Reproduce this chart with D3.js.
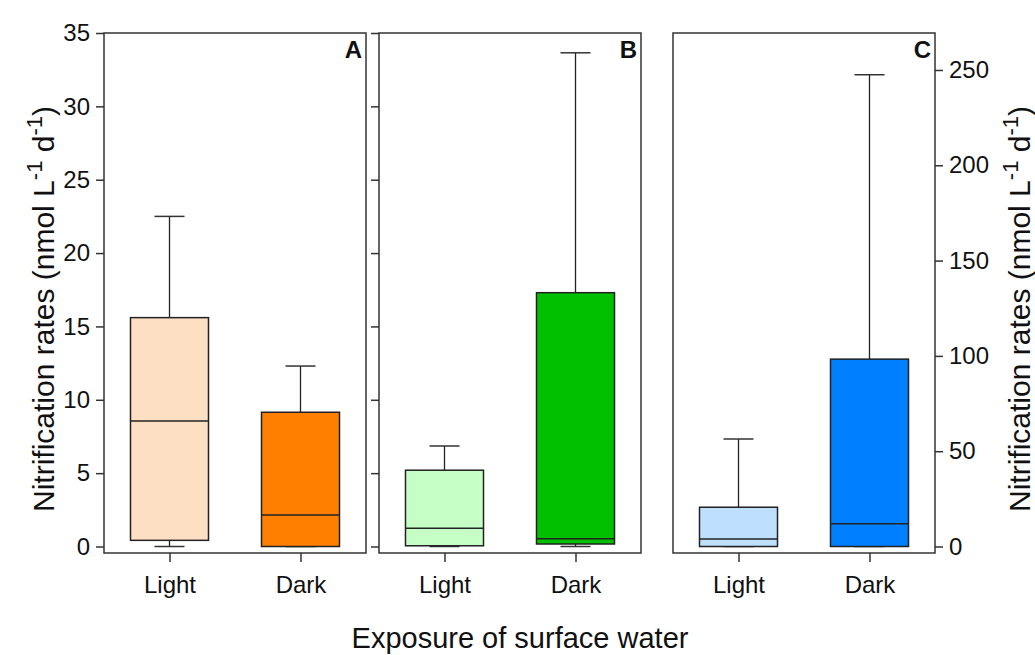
<!DOCTYPE html>
<html>
<head>
<meta charset="utf-8">
<script src="https://cdn.jsdelivr.net/npm/d3@7"></script>
<style>
  body { margin: 0; background: #fff; }
  svg { display: block; font-family: "Liberation Sans", Arial, sans-serif; }
</style>
</head>
<body>
<svg id="chart" width="1035" height="655"></svg>
<script>
// data
const exposure = ["Light", "Dark"];
const panelLabels = ["A", "B", "C"];
// [min, q1, median, q3, max] for Light and Dark
const panelA = [[0, 0.42, 8.55, 15.6, 22.5], [0, 0, 2.15, 9.15, 12.3]];
const panelB = [[0, 0.05, 1.24, 5.2, 6.85], [0, 0.17, 0.53, 17.3, 33.65]];
const panelC = [[0, 0, 3.9, 20.6, 56.4], [0, 0, 12.0, 98.3, 247.5]];
const leftTicks = [0, 5, 10, 15, 20, 25, 30, 35];
const rightTicks = [0, 50, 100, 150, 200, 250];

const fills = [["#fde0c4", "#ff8000"], ["#c6ffc6", "#00c000"], ["#bfdfff", "#0080ff"]];

const svg = d3.select("#chart");
const panelTop = 33, panelBottom = 553, pw = 262;
const lefts = [104, 379, 673];

const yAB = d3.scaleLinear().domain([0, 35]).range([546.5, panelTop]);
const yC = d3.scaleLinear().domain([0, 269.4]).range([546.5, panelTop]);
const yScales = [yAB, yAB, yC];
const stats = [panelA, panelB, panelC];

panelLabels.forEach((lab, p) => {
    let g = svg.append("g").attr("transform", `translate(${lefts[p]},0)`);
    let x = d3.scalePoint().domain(exposure).range([0, pw]).padding(0.5);
    let y = yScales[p];
    let bw = 78, cw = 30;

    // y axes
    if (p === 0 || p === 1) {
        let ax = g.append("g").call(d3.axisLeft(y).tickValues(leftTicks).tickSize(8).tickPadding(6));
        if (p === 1) ax.selectAll("text").remove();
        ax.select(".domain").remove();
    }
    if (p === 2) {
        let ax = g.append("g").attr("transform", `translate(${pw},0)`)
            .call(d3.axisRight(y).tickValues(rightTicks).tickSize(8).tickPadding(6));
        ax.select(".domain").remove();
    }
    // x axis
    let xa = g.append("g").attr("transform", `translate(0,${panelBottom})`)
        .call(d3.axisBottom(x).tickSize(9).tickPadding(14));
    xa.select(".domain").remove();

    g.selectAll(".tick line").attr("stroke", "#333").attr("stroke-width", 1.5);
    g.selectAll(".tick text").attr("font-size", 24).attr("fill", "#111")
        .attr("font-family", "'Liberation Sans', Arial, sans-serif");

    // boxes
    stats[p].forEach((s, i) => {
        let cx = x(exposure[i]);
        let [mn, q1, md, q3, mx] = s;
        g.append("line").attr("x1", cx).attr("x2", cx).attr("y1", y(q3)).attr("y2", y(mx))
            .attr("stroke", "#222").attr("stroke-width", 1.3);
        g.append("line").attr("x1", cx).attr("x2", cx).attr("y1", y(q1)).attr("y2", y(mn))
            .attr("stroke", "#222").attr("stroke-width", 1.3);
        g.append("line").attr("x1", cx - cw / 2).attr("x2", cx + cw / 2).attr("y1", y(mx)).attr("y2", y(mx))
            .attr("stroke", "#333").attr("stroke-width", 1.5);
        g.append("line").attr("x1", cx - cw / 2).attr("x2", cx + cw / 2).attr("y1", y(mn)).attr("y2", y(mn))
            .attr("stroke", "#333").attr("stroke-width", 1.5);
        g.append("rect").attr("x", cx - bw / 2).attr("width", bw)
            .attr("y", y(q3)).attr("height", y(q1) - y(q3))
            .attr("fill", fills[p][i]).attr("stroke", "#222").attr("stroke-width", 1.5);
        g.append("line").attr("x1", cx - bw / 2).attr("x2", cx + bw / 2).attr("y1", y(md)).attr("y2", y(md))
            .attr("stroke", "#222").attr("stroke-width", 1.5);
    });

    // frame
    g.append("rect").attr("x", 0).attr("y", panelTop).attr("width", pw).attr("height", panelBottom - panelTop)
        .attr("fill", "none").attr("stroke", "#333").attr("stroke-width", 1.5);

    g.append("text").attr("x", pw - 4).attr("y", 58).attr("text-anchor", "end")
        .attr("font-size", 24).attr("font-weight", "bold").attr("fill", "#111").text(lab);
});

// axis titles
function yTitle(tx) {
    let t = svg.append("text").attr("transform", `translate(${tx},309) rotate(-90)`)
        .attr("text-anchor", "middle").attr("font-size", 30).attr("fill", "#111");
    t.append("tspan").text("Nitrification rates (nmol L");
    t.append("tspan").attr("dy", -12).attr("font-size", 22).text("-1");
    t.append("tspan").attr("dy", 12).text(" d");
    t.append("tspan").attr("dy", -12).attr("font-size", 22).text("-1");
    t.append("tspan").attr("dy", 12).text(")");
}
yTitle(54);
yTitle(1030);

svg.append("text").attr("x", 520).attr("y", 648).attr("text-anchor", "middle")
    .attr("font-size", 29).attr("fill", "#111").text("Exposure of surface water");
</script>
</body>
</html>
